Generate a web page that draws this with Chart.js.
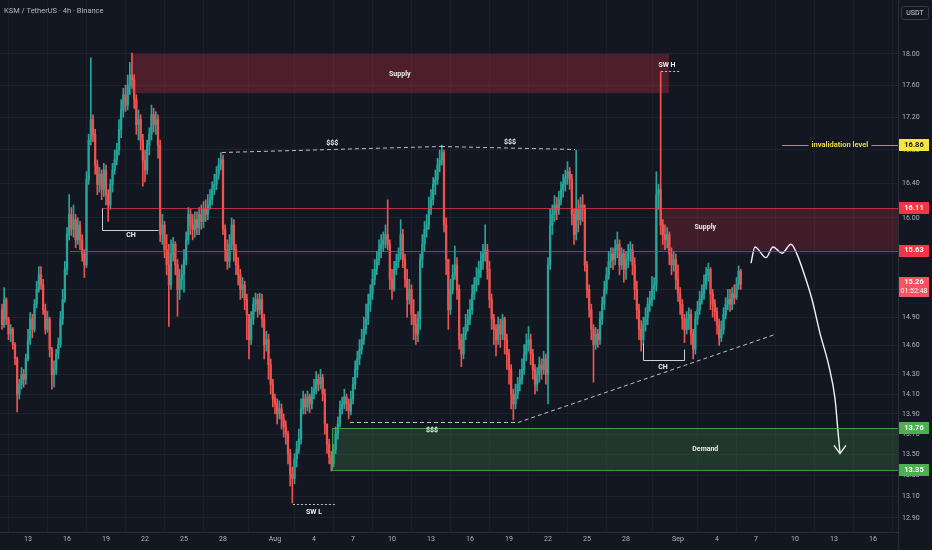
<!DOCTYPE html>
<html><head><meta charset="utf-8">
<script src="https://cdn.jsdelivr.net/npm/chart.js@4.4.1/dist/chart.umd.min.js"></script>
<style>html,body{margin:0;padding:0;background:#131722;overflow:hidden}canvas{display:block}</style>
</head><body>
<canvas id="c" width="932" height="550"></canvas>
<script>
// ---------- DATA ----------
const title = 'KSM / TetherUS · 4h · Binance';
const currency = 'USDT';
const startDay = -2;          // first candle: Jul 11 00:00 (days counted from Jul 13)
const barsPerDay = 6;         // 4h candles
const firstOpen = 14.98;
const closes = [
14.82,15.09,14.88,14.72,14.77,14.61,
14.46,14.10,14.20,14.30,14.25,14.46,
14.66,14.88,14.77,15.04,15.20,15.36,
15.25,14.98,14.77,14.88,14.56,14.30,
14.35,14.51,14.61,14.88,15.09,15.42,
15.81,16.04,15.87,15.98,15.75,15.92,
15.75,15.59,15.47,16.45,16.92,17.17,
16.99,16.62,16.39,16.51,16.33,16.56,
16.27,16.15,16.39,16.56,16.68,16.80,
17.05,17.29,17.48,17.35,17.60,17.73,
17.67,17.42,17.11,17.17,16.92,16.68,
16.56,16.86,16.99,17.23,17.11,17.17,
16.86,15.81,15.92,15.64,15.47,15.25,
15.59,15.70,15.47,15.20,15.31,15.36,
15.53,15.75,16.04,15.92,15.87,15.98,
15.89,16.04,15.96,16.10,16.04,16.15,
16.21,16.33,16.39,16.51,16.62,16.68,
15.87,15.64,15.51,15.70,15.92,15.64,
15.47,15.36,15.20,15.25,15.09,14.93,
14.66,14.88,15.04,15.09,14.98,15.09,
14.88,14.61,14.66,14.40,14.20,14.05,
14.00,13.90,13.95,13.85,13.77,13.70,
13.51,13.31,13.27,13.46,13.55,13.65,
13.95,14.05,13.97,14.07,14.00,14.10,
14.15,14.25,14.20,14.27,14.10,13.80,
13.60,13.48,13.41,13.55,13.70,13.80,
13.95,14.00,14.07,14.00,13.93,14.05,
14.20,14.35,14.46,14.56,14.66,14.77,
14.88,15.04,15.15,15.31,15.42,15.53,
15.64,15.70,15.75,15.81,15.70,15.31,
15.20,15.42,15.51,15.59,15.81,15.53,
15.31,15.09,15.20,14.93,14.82,14.72,
14.88,15.53,15.70,15.87,15.92,16.10,
16.21,16.39,16.45,16.62,16.68,16.77,
15.92,15.53,14.98,15.20,15.36,15.47,
15.20,14.66,14.51,14.72,14.82,14.88,
14.98,15.15,15.25,15.33,15.42,15.51,
15.59,15.64,15.42,15.09,14.88,14.77,
14.66,14.82,14.72,14.88,14.66,14.51,
14.35,14.10,14.00,14.10,14.20,14.25,
14.35,14.51,14.61,14.66,14.51,14.35,
14.20,14.30,14.40,14.35,14.46,14.30,
15.47,15.92,16.04,16.15,16.10,16.21,
16.33,16.39,16.47,16.54,16.45,16.04,
15.81,16.10,15.98,16.15,16.10,15.47,
15.20,14.98,14.77,14.61,14.72,14.66,
14.88,15.04,15.20,15.36,15.51,15.59,
15.53,15.64,15.70,15.47,15.59,15.42,
15.53,15.62,15.64,15.47,15.20,14.98,
14.77,14.66,14.82,14.90,15.04,15.09,
15.20,15.25,16.27,16.33,15.92,15.81,
15.75,15.81,15.59,15.47,15.53,15.31,
15.15,15.04,14.88,14.77,14.88,14.93,
14.72,14.56,14.88,14.98,15.09,15.15,
15.25,15.36,15.42,15.15,15.04,14.96,
14.82,14.68,14.77,14.93,15.04,15.09,
15.04,15.15,15.11,15.25,15.40,15.26
];
const highs = [
15.04,15.22,15.11,14.90,14.82,14.79,
14.63,14.48,14.25,14.37,14.35,14.51,
14.77,14.95,14.93,15.09,15.29,15.45,
15.45,15.31,15.04,14.96,14.90,14.58,
14.44,14.56,14.68,14.96,15.20,15.51,
15.89,16.27,16.12,16.15,16.04,16.00,
15.96,15.81,15.64,16.54,16.99,17.95,
17.23,17.05,16.68,16.59,16.56,16.64,
16.62,16.33,16.45,16.64,16.80,16.88,
17.17,17.42,17.56,17.60,17.73,17.89,
18.01,17.73,17.48,17.29,17.23,16.99,
16.80,16.92,17.07,17.35,17.31,17.27,
17.23,16.92,16.04,15.96,15.81,15.70,
15.75,15.78,15.73,15.53,15.42,15.47,
15.64,15.84,16.12,16.10,16.04,16.07,
16.07,16.12,16.15,16.19,16.21,16.27,
16.33,16.42,16.51,16.60,16.70,16.77,
16.74,15.92,15.75,15.81,16.00,15.98,
15.70,15.55,15.42,15.33,15.29,15.15,
14.93,14.96,15.11,15.16,15.15,15.16,
15.15,14.93,14.75,14.72,14.46,14.25,
14.10,14.05,14.03,14.00,13.90,13.83,
13.73,13.55,13.38,13.51,13.63,13.75,
14.05,14.13,14.10,14.13,14.10,14.17,
14.25,14.33,14.30,14.35,14.30,14.15,
13.80,13.65,13.53,13.60,13.77,13.87,
14.03,14.07,14.15,14.10,14.05,14.13,
14.27,14.44,14.54,14.66,14.77,14.90,
15.04,15.15,15.25,15.42,15.53,15.62,
15.75,15.81,15.84,15.92,16.21,15.75,
15.42,15.51,15.59,15.66,15.98,15.87,
15.59,15.42,15.31,15.25,15.09,14.93,
14.96,15.59,15.81,15.96,16.04,16.24,
16.33,16.47,16.56,16.70,16.80,16.86,
16.80,16.00,15.47,15.31,15.47,15.68,
15.55,15.25,14.72,14.79,14.93,14.98,
15.09,15.25,15.33,15.44,15.51,15.62,
15.70,15.92,15.70,15.51,15.15,14.93,
14.82,14.90,14.88,14.93,14.90,14.72,
14.56,14.40,14.15,14.20,14.27,14.35,
14.46,14.61,14.72,14.80,14.72,14.56,
14.40,14.37,14.48,14.46,14.54,14.51,
15.55,16.10,16.15,16.26,16.24,16.31,
16.42,16.51,16.56,16.66,16.59,16.51,
16.10,16.80,16.21,16.24,16.27,16.15,
15.51,15.25,15.04,14.82,14.79,14.77,
14.96,15.12,15.29,15.44,15.62,15.66,
15.66,15.75,15.84,15.75,15.66,15.64,
15.62,15.70,15.73,15.70,15.55,15.29,
15.04,14.86,14.90,15.00,15.11,15.18,
15.34,15.33,16.54,16.39,17.77,15.98,
15.92,15.89,15.84,15.66,15.62,15.59,
15.47,15.22,15.09,14.93,14.96,15.00,
14.98,14.77,14.96,15.07,15.18,15.25,
15.36,15.44,15.49,15.44,15.20,15.09,
15.00,14.88,14.86,15.00,15.11,15.20,
15.20,15.22,15.25,15.33,15.46,15.42
];
const lows = [
14.77,14.79,14.82,14.66,14.64,14.56,
14.40,13.92,14.05,14.15,14.17,14.20,
14.44,14.61,14.68,14.74,15.00,15.17,
15.20,14.93,14.72,14.74,14.48,14.15,
14.17,14.30,14.46,14.58,14.82,15.06,
15.36,15.75,15.80,15.78,15.66,15.70,
15.64,15.51,15.33,15.44,16.39,16.86,
16.90,16.51,16.27,16.30,16.21,16.25,
16.15,15.96,16.10,16.30,16.51,16.62,
16.74,16.95,17.20,17.27,17.29,17.48,
17.56,17.31,16.99,16.92,16.80,16.37,
16.42,16.51,16.74,16.92,17.02,16.99,
16.70,15.73,15.70,15.55,15.36,14.80,
15.20,15.51,15.36,14.91,15.09,15.20,
15.17,15.47,15.70,15.81,15.75,15.78,
15.81,15.81,15.87,15.89,15.96,15.98,
16.10,16.15,16.27,16.33,16.45,16.56,
15.81,15.51,15.42,15.44,15.64,15.51,
15.36,15.25,15.09,15.11,14.98,14.66,
14.46,14.61,14.82,14.96,14.90,14.93,
14.79,14.46,14.54,14.25,14.10,13.97,
13.90,13.80,13.85,13.75,13.67,13.60,
13.41,13.20,13.04,13.22,13.38,13.51,
13.60,13.90,13.90,13.93,13.91,13.95,
14.05,14.10,14.13,14.15,14.03,13.70,
13.51,13.41,13.34,13.38,13.51,13.65,
13.77,13.90,13.95,13.93,13.85,13.89,
14.00,14.15,14.27,14.40,14.51,14.61,
14.72,14.82,14.96,15.09,15.25,15.36,
15.47,15.55,15.62,15.66,15.64,15.20,
15.09,15.18,15.36,15.44,15.53,15.44,
15.22,14.90,15.04,14.82,14.66,14.61,
14.64,14.77,15.44,15.62,15.78,15.87,
16.04,16.15,16.27,16.39,16.54,16.62,
15.84,15.36,14.77,14.93,15.15,15.31,
15.09,14.56,14.38,14.46,14.66,14.75,
14.82,14.93,15.09,15.18,15.25,15.33,
15.42,15.51,15.31,15.00,14.77,14.61,
14.49,14.61,14.58,14.66,14.51,14.35,
14.20,13.95,13.84,13.95,14.05,14.13,
14.20,14.30,14.44,14.54,14.40,14.25,
14.10,14.13,14.22,14.25,14.30,14.20,
14.00,15.42,15.81,15.96,15.98,16.04,
16.15,16.24,16.31,16.39,16.33,15.92,
15.70,15.75,15.84,15.92,15.96,15.40,
15.11,14.90,14.66,14.22,14.56,14.58,
14.61,14.82,14.98,15.15,15.31,15.44,
15.42,15.47,15.55,15.36,15.42,15.28,
15.31,15.44,15.51,15.36,15.09,14.88,
14.66,14.54,14.61,14.75,14.82,14.96,
15.02,15.09,15.18,16.10,15.81,15.70,
15.64,15.66,15.47,15.36,15.40,15.20,
15.07,14.93,14.77,14.63,14.72,14.77,
14.61,14.46,14.51,14.82,14.93,15.04,
15.09,15.20,15.29,14.98,14.90,14.86,
14.72,14.60,14.64,14.72,14.88,14.98,
14.96,14.98,15.04,15.09,15.20,15.20
];
const tickDays   = [0,3,6,9,12,15,19,22,25,28,31,34,37,40,43,46,50,53,56,59,62,65];
const tickLabels = ['13','16','19','22','25','28','Aug','4','7','10','13','16','19','22','25','28','Sep','4','7','10','13','16'];
const priceTicks = [18.00,17.60,17.20,16.80,16.40,16.00,15.60,15.20,14.90,14.60,14.30,14.10,13.90,13.70,13.50,13.30,13.10,12.90];
const xRange = [-2.1538, 66.923];
const yRange = [12.77, 18.71];

// drawings (time in days from Jul 13, price in USDT)
const zones = [
  {x0: 7.92, x1: 49.3,   top: 18.00, bottom: 17.50, fill: 'rgba(242,54,69,0.26)', edge: null, label: 'Supply', lx: 28.6, lp: 17.74},
  {x0: 48.6, x1: 66.923, top: 16.11, bottom: 15.63, fill: 'rgba(242,54,69,0.21)', edge: null, label: 'Supply', lx: 52.1, lp: 15.89},
  {x0: 23.4, x1: 66.923, top: 13.76, bottom: 13.35, fill: 'rgba(76,175,80,0.22)', edge: 'rgba(76,175,80,0.85)', label: 'Demand', lx: 52.1, lp: 13.55}
];
const levelLines = [
  {x0: 5.69, p: 16.11, color: 'rgba(242,54,69,0.75)'},
  {x0: 3.23, p: 15.63, color: 'rgba(242,54,69,0.75)'}
];
const dashedLines = [
  [[14.92,16.77],[31.77,16.85]],
  [[31.77,16.85],[42.08,16.81]],
  [[24.77,13.82],[37.69,13.82]],
  [[37.69,13.82],[57.46,14.72]]
];
const dottedLines = [
  [[20.38,13.03],[23.6,13.03]],
  [[48.7,17.78],[50.15,17.78]]
];
const brackets = [
  [[5.69,16.11],[5.69,15.86],[10.0,15.86]],
  [[47.3,14.63],[47.3,14.45],[50.46,14.45],[50.46,14.56]]
];
const textLabels = [
  {t:'$$$', x:23.4, p:16.88}, {t:'$$$', x:37.08, p:16.89}, {t:'$$$', x:31.08, p:13.74},
  {t:'SW L', x:22.0, p:12.95}, {t:'SW H', x:49.15, p:17.86},
  {t:'CH', x:7.92, p:15.80}, {t:'CH', x:48.85, p:14.37}
];
const invalidation = {x0: 58.0, p: 16.86, text: 'invalidation level', tx: 62.46};
const arrowPath = [
  {x:55.62,y:15.49},{x:55.92,y:15.67},{x:56.77,y:15.55},{x:57.31,y:15.67},{x:58.00,y:15.60},
  {x:58.69,y:15.70},{x:59.15,y:15.59},{x:59.77,y:15.34},{x:60.31,y:15.09},{x:60.92,y:14.73},
  {x:61.62,y:14.38},{x:62.08,y:14.05},{x:62.31,y:13.72},{x:62.46,y:13.52}
];
const arrowHead = [{x:62.0,y:13.59},{x:62.46,y:13.51},{x:62.92,y:13.59}];
const priceTags = [
  {p:16.86, bg:'#f5e53d', fg:'#131722'},
  {p:16.11, bg:'#f23645', fg:'#ffffff'},
  {p:15.63, bg:'#f23645', fg:'#ffffff'},
  {p:13.76, bg:'#4caf50', fg:'#ffffff'},
  {p:13.35, bg:'#4caf50', fg:'#ffffff'}
];
const countdown = '01:52:48';

// ---------- BUILD ----------
const BG = '#131722';
const UP = '#26a69a', DN = '#ef5350';
const opens = closes.map((c,i) => i === 0 ? firstOpen : closes[i-1]);
const times = closes.map((c,i) => startDay + i / barsPerDay);
const colors = closes.map((c,i) => c >= opens[i] ? UP : DN);
const wickData = times.map((t,i) => ({x:t, y:[Math.min(lows[i],opens[i],closes[i]), Math.max(highs[i],opens[i],closes[i])]}));
const bodyData = times.map((t,i) => ({x:t, y:[opens[i], closes[i]]}));
const FONT = 'Roboto, "Liberation Sans", sans-serif';

const overlay = {
  id: 'overlay',
  beforeDatasetsDraw(chart) {
    const {ctx, chartArea: a, scales: {x, y}} = chart;
    ctx.save();
    ctx.beginPath(); ctx.rect(a.left, a.top, a.right - a.left, a.bottom - a.top); ctx.clip();
    zones.forEach(z => {
      const x0 = x.getPixelForValue(z.x0), x1 = x.getPixelForValue(z.x1);
      const y0 = y.getPixelForValue(z.top), y1 = y.getPixelForValue(z.bottom);
      ctx.fillStyle = z.fill;
      ctx.fillRect(x0, y0, x1 - x0, y1 - y0);
    });
    ctx.restore();
  },
  afterDatasetsDraw(chart) {
    const {ctx, chartArea: a, scales: {x, y}} = chart;
    const X = v => x.getPixelForValue(v), Y = v => y.getPixelForValue(v);
    const al = v => Math.round(v) + 0.5;
    ctx.save();
    ctx.beginPath(); ctx.rect(a.left, a.top, a.right - a.left, a.bottom - a.top); ctx.clip();
    ctx.lineWidth = 1;
    // zone edges
    zones.forEach(z => {
      if (!z.edge) return;
      ctx.strokeStyle = z.edge;
      const x0 = al(X(z.x0)), x1 = X(z.x1);
      const y0 = al(Y(z.top)), y1 = al(Y(z.bottom));
      ctx.beginPath();
      ctx.moveTo(x1, y0); ctx.lineTo(x0, y0); ctx.lineTo(x0, y1); ctx.lineTo(x1, y1);
      ctx.stroke();
    });
    // level lines
    levelLines.forEach(l => {
      ctx.strokeStyle = l.color;
      const yy = al(Y(l.p));
      ctx.beginPath(); ctx.moveTo(X(l.x0), yy); ctx.lineTo(a.right, yy); ctx.stroke();
    });
    // dashed lines
    ctx.strokeStyle = 'rgba(220,222,228,0.85)';
    ctx.setLineDash([4,3]);
    dashedLines.forEach(seg => {
      ctx.beginPath();
      ctx.moveTo(X(seg[0][0]), al(Y(seg[0][1])));
      ctx.lineTo(X(seg[1][0]), al(Y(seg[1][1])));
      ctx.stroke();
    });
    ctx.setLineDash([2,2]);
    dottedLines.forEach(seg => {
      ctx.beginPath();
      ctx.moveTo(X(seg[0][0]), al(Y(seg[0][1])));
      ctx.lineTo(X(seg[1][0]), al(Y(seg[1][1])));
      ctx.stroke();
    });
    ctx.setLineDash([]);
    // brackets
    ctx.strokeStyle = 'rgba(225,228,235,0.9)';
    brackets.forEach(pts => {
      ctx.beginPath();
      pts.forEach((p,i) => { const px = al(X(p[0])), py = al(Y(p[1])); i ? ctx.lineTo(px,py) : ctx.moveTo(px,py); });
      ctx.stroke();
    });
    // zone labels & text labels
    ctx.textAlign = 'center'; ctx.textBaseline = 'middle';
    ctx.fillStyle = '#eceef2';
    ctx.font = 'bold 7px ' + FONT;
    zones.forEach(z => ctx.fillText(z.label, X(z.lx), Y(z.lp)));
    textLabels.forEach(t => ctx.fillText(t.t, X(t.x), Y(t.p)));
    // invalidation line
    const iy = al(Y(invalidation.p));
    ctx.strokeStyle = 'rgba(226,214,80,0.7)';
    ctx.beginPath(); ctx.moveTo(X(invalidation.x0), iy); ctx.lineTo(a.right, iy); ctx.stroke();
    ctx.font = 'bold 7.5px ' + FONT;
    const tw = ctx.measureText(invalidation.text).width;
    ctx.fillStyle = BG;
    ctx.fillRect(X(invalidation.tx) - tw/2 - 3, iy - 5, tw + 6, 10);
    ctx.fillStyle = '#e9d84a';
    ctx.fillText(invalidation.text, X(invalidation.tx), iy);
    ctx.restore();
  },
  afterDraw(chart) {
    const {ctx, chartArea: a, scales: {y}, width, height} = chart;
    ctx.save();
    // separators
    ctx.strokeStyle = '#2a2e39'; ctx.lineWidth = 1;
    ctx.beginPath(); ctx.moveTo(a.right + 0.5, 0); ctx.lineTo(a.right + 0.5, height); ctx.stroke();
    // price tags
    ctx.textAlign = 'center'; ctx.textBaseline = 'middle';
    const tagX = a.right + 1, tagW = width - 3 - tagX;
    ctx.font = 'bold 7.5px ' + FONT;
    priceTags.forEach(t => {
      const py = y.getPixelForValue(t.p);
      ctx.fillStyle = t.bg;
      ctx.fillRect(tagX, Math.round(py - 6), tagW, 12);
      ctx.fillStyle = t.fg;
      ctx.fillText(t.p.toFixed(2), tagX + tagW/2, py);
    });
    const last = closes[closes.length - 1];
    const ly = y.getPixelForValue(last);
    ctx.fillStyle = last >= opens[opens.length - 1] ? UP : '#f7525f';
    ctx.fillRect(tagX, Math.round(ly - 7), tagW, 20);
    ctx.fillStyle = '#ffffff';
    ctx.fillText(last.toFixed(2), tagX + tagW/2, ly - 1.5);
    ctx.font = '7px ' + FONT;
    ctx.fillText(countdown, tagX + tagW/2, ly + 7.5);
    // header
    ctx.textAlign = 'left';
    ctx.font = '7.5px ' + FONT;
    ctx.fillStyle = '#b2b5be';
    ctx.fillText(title, a.left + 4, a.top + 11);
    // currency box
    const bx = a.right + 3, bw = width - 3 - bx;
    ctx.strokeStyle = '#363a45';
    ctx.beginPath();
    if (ctx.roundRect) ctx.roundRect(bx + 0.5, 6.5, bw - 1, 13, 2); else ctx.rect(bx + 0.5, 6.5, bw - 1, 13);
    ctx.stroke();
    ctx.textAlign = 'center';
    ctx.fillStyle = '#d1d4dc';
    ctx.font = '7px ' + FONT;
    ctx.fillText(currency, bx + bw/2, 13);
    ctx.restore();
  }
};

new Chart(document.getElementById('c'), {
  type: 'bar',
  data: {
    datasets: [
      {type:'bar', data: wickData, backgroundColor: colors, barThickness: 1, grouped: false, order: 3},
      {type:'bar', data: bodyData, backgroundColor: colors, barThickness: 1.6, grouped: false, order: 2},
      {type:'line', data: arrowPath, borderColor: '#f2f2f2', borderWidth: 1.4, pointRadius: 0, cubicInterpolationMode: 'monotone', order: 1},
      {type:'line', data: arrowHead, borderColor: '#f2f2f2', borderWidth: 1.4, pointRadius: 0, tension: 0, order: 0}
    ]
  },
  options: {
    responsive: false,
    animation: false,
    events: [],
    layout: {padding: 0},
    plugins: {legend: {display: false}, tooltip: {enabled: false}},
    scales: {
      x: {
        type: 'linear', min: xRange[0], max: xRange[1], offset: false, position: 'bottom',
        afterBuildTicks: s => { s.ticks = tickDays.map(v => ({value: v})); },
        afterFit: s => { s.height = 18; s.paddingLeft = 0; s.paddingRight = 0; s.paddingTop = 0; s.paddingBottom = 0; },
        ticks: {
          autoSkip: false, maxRotation: 0, padding: 3, color: '#b2b5be',
          font: {size: 7, family: FONT},
          callback: v => { const k = tickDays.indexOf(v); return k >= 0 ? tickLabels[k] : ''; }
        },
        grid: {color: '#1b1f2a', drawTicks: false},
        border: {color: '#2a2e39'}
      },
      y: {
        type: 'logarithmic', min: yRange[0], max: yRange[1], position: 'right',
        afterBuildTicks: s => { s.ticks = priceTicks.map(v => ({value: v})); },
        afterFit: s => { s.width = 34; s.paddingLeft = 0; s.paddingRight = 0; s.paddingTop = 0; s.paddingBottom = 0; },
        ticks: {
          padding: 4, color: '#b2b5be', font: {size: 7, family: FONT},
          callback: v => Number(v).toFixed(2)
        },
        grid: {color: '#1e222d', drawTicks: false},
        border: {color: '#2a2e39'}
      }
    }
  },
  plugins: [overlay]
});
</script>
</body></html>
